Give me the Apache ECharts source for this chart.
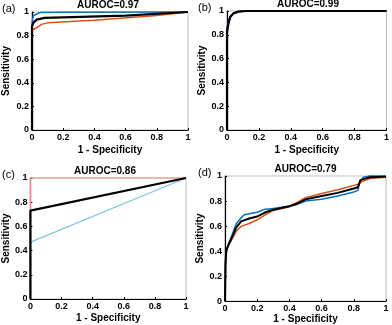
<!DOCTYPE html>
<html>
<head>
<meta charset="utf-8">
<script src="https://cdn.jsdelivr.net/npm/echarts@6/dist/echarts.min.js"></script>
<style>
  html, body { margin: 0; padding: 0; background: #fff; }
  #chart { width: 392px; height: 325px; }
</style>
</head>
<body>
<div id="chart"></div>
<script>
// 패널 제목 / 라벨
const panelLabels = ['(a)', '(b)', '(c)', '(d)'];
const aurocTitles = ['AUROC=0.97', 'AUROC=0.99', 'AUROC=0.86', 'AUROC=0.79'];
const tickValues = [0, 0.2, 0.4, 0.6, 0.8, 1];

// (a) ROC 곡선 [1 - specificity, sensitivity]
const rocA_blue = [[0, 0], [0, 0.9], [0.005, 0.95], [0.01, 0.97], [0.02, 0.985], [0.05, 0.995], [0.2, 0.997], [1, 1]];
const rocA_orange = [[0, 0], [0, 0.845], [0.02, 0.86], [0.04, 0.875], [0.06, 0.895], [0.1, 0.908], [0.4, 0.93], [0.8, 0.97], [1, 1]];
const rocA_black = [[0, 0], [0, 0.88], [0.01, 0.91], [0.03, 0.935], [0.08, 0.95], [0.2, 0.955], [0.6, 0.97], [1, 1]];

// (b)
const rocB_blue = [[0, 0], [0, 0.86], [0.01, 0.92], [0.02, 0.955], [0.04, 0.98], [0.07, 0.995], [0.12, 1], [1, 1]];
const rocB_orange = [[0, 0], [0, 0.8], [0.01, 0.89], [0.02, 0.945], [0.04, 0.978], [0.07, 0.994], [0.12, 1], [1, 1]];
const rocB_black = [[0, 0], [0, 0.83], [0.01, 0.9], [0.02, 0.95], [0.04, 0.98], [0.07, 0.995], [0.12, 1], [1, 1]];

// (c)
const rocC_blue = [[0, 0], [0, 0.47], [1, 1]];
const rocC_orange = [[0, 0], [0, 1], [1, 1]];
const rocC_black = [[0, 0], [0, 0.73], [1, 1]];

// (d)
const rocD_blue = [[0, 0], [0.003, 0.3], [0.008, 0.4], [0.02, 0.45], [0.05, 0.55], [0.07, 0.62], [0.1, 0.665], [0.12, 0.69], [0.2, 0.71], [0.25, 0.735], [0.3, 0.74], [0.4, 0.76], [0.45, 0.775], [0.5, 0.8], [0.6, 0.815], [0.7, 0.84], [0.8, 0.872], [0.825, 0.885], [0.84, 0.96], [0.86, 0.99], [0.9, 1], [1, 1]];
const rocD_orange = [[0, 0], [0.003, 0.28], [0.008, 0.39], [0.02, 0.44], [0.05, 0.51], [0.07, 0.56], [0.1, 0.597], [0.15, 0.62], [0.2, 0.65], [0.25, 0.69], [0.3, 0.725], [0.4, 0.755], [0.45, 0.79], [0.5, 0.826], [0.6, 0.86], [0.7, 0.89], [0.8, 0.925], [0.83, 0.935], [0.85, 0.955], [0.87, 0.965], [0.9, 0.98], [1, 0.99]];
const rocD_black = [[0, 0], [0.003, 0.3], [0.008, 0.405], [0.02, 0.445], [0.05, 0.53], [0.07, 0.59], [0.1, 0.637], [0.15, 0.66], [0.2, 0.676], [0.25, 0.71], [0.3, 0.73], [0.4, 0.758], [0.45, 0.78], [0.5, 0.813], [0.6, 0.84], [0.7, 0.865], [0.8, 0.9], [0.825, 0.91], [0.84, 0.965], [0.86, 0.975], [0.9, 0.99], [1, 0.995]];

const BLUE = '#0072BD';
const ORANGE = '#D95319';
const BLACK = '#000000';
const LIGHT_BLUE = '#7CC4E4';
const LIGHT_ORANGE = '#E8957A';

const grids = [
  { left: 28, top: 12, width: 160, height: 118 },
  { left: 227, top: 11, width: 162, height: 119 },
  { left: 24, top: 178, width: 162, height: 121 },
  { left: 225, top: 176, width: 161, height: 127 }
];
const yNameGaps = [21, 20, 18, 19];
const xNameGaps = [15, 15, 14, 12];

const panelSeries = [
  [[rocA_blue, BLUE, 1.5], [rocA_orange, ORANGE, 1.5], [rocA_black, BLACK, 2.2]],
  [[rocB_blue, BLUE, 1.5], [rocB_orange, ORANGE, 1.5], [rocB_black, BLACK, 2.2]],
  [[rocC_blue, LIGHT_BLUE, 1.2], [rocC_orange, LIGHT_ORANGE, 1.2], [rocC_black, BLACK, 2.2]],
  [[rocD_blue, BLUE, 1.5], [rocD_orange, ORANGE, 1.5], [rocD_black, BLACK, 2]]
];

const labelStyle = { fontFamily: 'Liberation Sans', fontWeight: 'bold', fontSize: 9, color: '#000' };

const option = {
  animation: false,
  backgroundColor: '#fff',
  title: [],
  grid: grids.map(g => Object.assign({ show: true, borderColor: '#bdbdbd', borderWidth: 1, containLabel: false }, g)),
  xAxis: [],
  yAxis: [],
  series: [],
  graphic: []
};

grids.forEach((g, i) => {
  option.title.push({
    text: aurocTitles[i],
    left: g.left + g.width / 2,
    top: g.top - 12,
    padding: 0,
    textAlign: 'center',
    textStyle: { fontFamily: 'Liberation Sans', fontWeight: 'bold', fontSize: 10, color: '#000' }
  });
  option.graphic.push({
    type: 'text',
    left: i % 2 === 0 ? 2 : 198,
    top: g.top - 9,
    style: { text: panelLabels[i], font: '11px "Liberation Sans"', fill: '#000' }
  });
  option.xAxis.push({
    type: 'value', gridIndex: i, min: 0, max: 1, interval: 0.2,
    name: '1 - Specificity', nameLocation: 'middle', nameGap: xNameGaps[i],
    nameTextStyle: { fontFamily: 'Liberation Sans', fontWeight: 'bold', fontSize: 10, color: '#000' },
    axisLine: { lineStyle: { color: '#000', width: 1.2 } },
    axisTick: { inside: true, length: 2, lineStyle: { color: '#000' } },
    axisLabel: Object.assign({ margin: 3 }, labelStyle),
    splitLine: { show: false }
  });
  option.yAxis.push({
    type: 'value', gridIndex: i, min: 0, max: 1, interval: 0.2,
    name: 'Sensitivity', nameLocation: 'middle', nameGap: yNameGaps[i],
    nameTextStyle: { fontFamily: 'Liberation Sans', fontWeight: 'bold', fontSize: 10, color: '#000' },
    axisLine: { lineStyle: { color: '#000', width: 1.2 } },
    axisTick: { inside: true, length: 2, lineStyle: { color: '#000' } },
    axisLabel: Object.assign({ margin: 3 }, labelStyle),
    splitLine: { show: false }
  });
  panelSeries[i].forEach(([data, color, width]) => {
    option.series.push({
      type: 'line', xAxisIndex: i, yAxisIndex: i, data,
      showSymbol: false, symbol: 'none', clip: false,
      lineStyle: { color, width }
    });
  });
});

const chart = echarts.init(document.getElementById('chart'));
chart.setOption(option);
</script>
</body>
</html>
